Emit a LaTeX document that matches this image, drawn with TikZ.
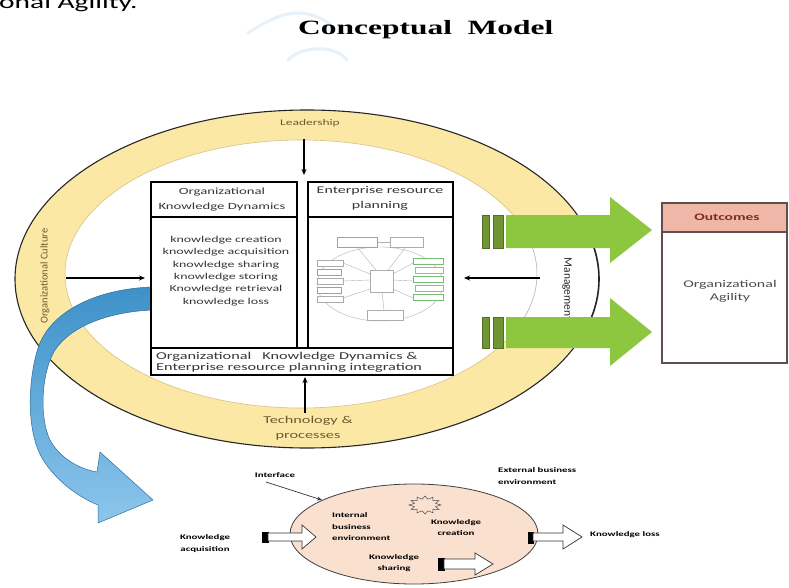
\documentclass[tikz,border=0pt]{standalone}
\usepackage{fontspec}
\setmainfont{Carlito}
\newfontfamily\wf{Carlito}[FakeStretch=1.55]
\newfontfamily\tf{Liberation Serif}[FakeStretch=1.55]
\usetikzlibrary{arrows.meta}
\definecolor{ringY}{RGB}{251,232,165}
\definecolor{ringE}{RGB}{215,195,140}
\definecolor{txtB}{RGB}{110,90,45}
\definecolor{grn}{RGB}{141,198,63}
\definecolor{grnD}{RGB}{112,150,52}
\definecolor{grnE}{RGB}{80,110,40}
\definecolor{bluD}{RGB}{62,145,200}
\definecolor{bluL}{RGB}{140,198,236}
\definecolor{bluE}{RGB}{45,110,160}
\definecolor{peach}{RGB}{250,224,207}
\definecolor{salmon}{RGB}{240,182,167}
\definecolor{outE}{RGB}{95,80,75}
\definecolor{outT}{RGB}{125,45,35}
\definecolor{wm}{RGB}{230,241,250}
\definecolor{txtG}{RGB}{55,55,55}
\begin{document}
\begin{tikzpicture}[x=1pt,y=-1pt,
  box/.style={draw=black, line width=1.3pt, fill=white},
  lbl/.style={inner sep=0pt, align=center, text=txtG},
  blbl/.style={inner sep=0pt, align=left, text=black, font=\wf\bfseries\fontsize{7}{11.5}\selectfont},
  arr/.style={black, line width=1.2pt, -{Stealth[length=6pt,width=5pt]}},
  erp/.style={draw=gray!65, line width=0.4pt, fill=white},
  erpg/.style={draw=green!35!gray!80, line width=0.5pt, fill=white},
  erpl/.style={draw=gray!60, line width=0.4pt},
  hollow/.style={draw=black!80, line width=0.7pt, fill=white},
  tailbox/.style={draw=black, fill=black, line width=0.5pt}]
\useasboundingbox (0,0) rectangle (789,588);
\fill[white] (0,0) rectangle (789,588);

% previous paragraph fragment and title
\node[anchor=base west, inner sep=0pt, font=\wf\fontsize{19}{22}\selectfont] (prev) at (-1,9) {onal Agility.};
\draw[wm, line width=3pt, line cap=round] (248,33) .. controls (268,20) and (285,12) .. (300,13) .. controls (312,14) and (322,18) .. (330,24);
\draw[wm, line width=3pt, line cap=round] (288,60) .. controls (300,46) and (335,44) .. (347,60);
\node[anchor=base west, inner sep=0pt, font=\tf\bfseries\fontsize{20.3}{23}\selectfont] (title) at (298,35) {Conceptual~~Model};

% yellow ring
\fill[ringY, even odd rule] (307,279) ellipse (292pt and 169pt) (301,274) ellipse (236pt and 134pt);
\draw[ringE, line width=0.6pt] (301,274) ellipse (236pt and 134pt);
\draw[black!85, line width=1.1pt] (307,279) ellipse (292pt and 169pt);
% management segment
\begin{scope}
  \clip (500,248) rectangle (640,317);
  \fill[white] (307,279) ellipse (293pt and 170pt);
  \draw[black!85, line width=1.6pt] (307,279) ellipse (292pt and 169pt);
  \draw[gray!70, line width=0.5pt] (301,274) ellipse (236pt and 134pt);
\end{scope}

% ring labels
\node[lbl, text=txtB, font=\wf\fontsize{8.7}{10}\selectfont] (lead) at (310,123) {Leadership};
\node[lbl, text=txtB, font=\wf\fontsize{10.5}{15}\selectfont] (tech) at (308,428.5) {Technology \&\\processes};
\node[lbl, text=txtB, rotate=90, font=\fontsize{10.5}{12}\selectfont] (cult) at (45,276) {Organizational Culture};
\node[lbl, text=black!85, rotate=-90, font=\fontsize{11.5}{12}\selectfont] (mgmt) at (567,289) {Management};

% blue curved arrow
\shadedraw[top color=bluD, bottom color=bluL, draw=bluE, line width=0.5pt]
  (152,287) .. controls (95,289) and (50,312) .. (38,348)
  .. controls (28,380) and (26,430) .. (42,458)
  .. controls (55,480) and (78,497) .. (98,505)
  -- (98,523) -- (153,500) -- (100,452) -- (97,472)
  .. controls (75,468) and (58,455) .. (50,440)
  .. controls (40,420) and (40,375) .. (55,350)
  .. controls (72,325) and (110,312) .. (152,310) -- cycle;

% central boxes
\draw[box] (151,182) rectangle (297,348);
\draw[black, line width=1.3pt] (151,217) -- (297,217);
\draw[box] (308,182) rectangle (453,348);
\draw[black, line width=1.3pt] (308,217) -- (453,217);
\draw[box] (151,348) rectangle (453,375);

\node[lbl, font=\wf\fontsize{9.5}{15}\selectfont] (okdh) at (222,199.5) {Organizational\\Knowledge Dynamics};
\node[lbl, font=\wf\fontsize{9}{12.4}\selectfont] (okdl) at (226,271) {knowledge creation\\knowledge acquisition\\knowledge sharing\\knowledge storing\\Knowledge retrieval\\knowledge loss};
\node[lbl, font=\wf\fontsize{10.3}{15}\selectfont] (erph) at (380,198.5) {Enterprise resource\\planning};
\node[lbl, anchor=west, align=left, font=\wf\fontsize{10.5}{11.5}\selectfont] (integ) at (156,362.5) {Organizational~~~Knowledge Dynamics \&\\Enterprise resource planning integration};

% mini ERP diagram
\draw[erpl] (380,284) ellipse (63pt and 37pt);
\draw[erpl] (377,242) -- (390,242);
\draw[erpl] (357,247) -- (376,270) (406,247) -- (388,270)
  (343,263) -- (370,274) (343,281) -- (370,280) (343,298) -- (370,289)
  (413,263) -- (393,274) (413,281) -- (393,280) (413,298) -- (393,289)
  (382,292) -- (384,310);
\draw[erpg] (337,237) rectangle (377,247);
\draw[erp] (390,237) rectangle (423,247);
\draw[erp] (317,260) rectangle (343,266);
\draw[erpg] (317,269) rectangle (341,275);
\draw[erp] (317,278) rectangle (343,284);
\draw[erpg] (317,287) rectangle (341,293);
\draw[erp] (317,296) rectangle (343,302);
\draw[erpg] (413,258) rectangle (443,264);
\draw[erp] (415,267) rectangle (443,273);
\draw[erpg] (413,276) rectangle (443,282);
\draw[erp] (415,285) rectangle (443,291);
\draw[erpg] (413,294) rectangle (443,300);
\draw[erp] (370,270) rectangle (393,292);
\draw[erp] (367,310) rectangle (403,320);

% connectors into the boxes
\coordinate (leadS) at (304,139);
\coordinate (leadE) at (304,175);
\coordinate (techS) at (305,413);
\coordinate (techE) at (305,377);
\coordinate (cultS) at (66,278);
\coordinate (cultE) at (145,278);
\coordinate (mgmtS) at (540,278);
\coordinate (mgmtE) at (464,278);
\draw[arr] (leadS) -- (leadE);
\draw[arr] (techS) -- (techE);
\draw[arr] (cultS) -- (cultE);
\draw[arr] (mgmtS) -- (mgmtE);

% green arrows
\foreach \yt/\yb/\ht/\hb in {215/248/197/263, 317/348/298/366}{
  \filldraw[fill=grnD, draw=grnE, line width=0.6pt] (482,\yt) rectangle (489,\yb);
  \filldraw[fill=grnD, draw=grnE, line width=0.6pt] (493,\yt) rectangle (503,\yb);
  \fill[grn] (506,\yt) -- (610,\yt) -- (610,\ht) -- (652,{(\ht+\hb)/2}) -- (610,\hb) -- (610,\yb) -- (506,\yb) -- cycle;
}

% outcomes
\draw[outE, line width=1.5pt, fill=white] (662,203) rectangle (787,363);
\filldraw[fill=salmon, draw=outE, line width=1.5pt] (662,203) rectangle (787,232);
\node[lbl, text=outT, font=\wf\bfseries\fontsize{10}{12}\selectfont] (outh) at (727,217) {Outcomes};
\node[lbl, text=black!70, font=\wf\fontsize{10.3}{13}\selectfont] (outb) at (730,291.5) {Organizational\\Agility};

% bottom interface diagram
\filldraw[fill=peach, draw=black!75, line width=0.8pt] (414,534) ellipse (124pt and 50pt);
\node[blbl] (iface) at (275,475) {Interface};
\coordinate (ifaceE) at (322,500);
\draw[black!80, line width=0.7pt, -{Stealth[length=5pt,width=4pt]}] (266,482) -- (ifaceE);
\node[blbl, anchor=west] (ext) at (498,476) {External business\\environment};
\node[blbl, align=center] (kacq) at (205,543.5) {Knowledge\\acquisition};
\node[blbl, anchor=west] (intb) at (332,527) {Internal\\business\\environment};
\node[blbl, align=center] (kcre) at (456,527.5) {Knowledge\\creation};
\node[blbl, align=center] (ksha) at (394,563) {Knowledge\\sharing};
\node[blbl, anchor=west] (kloss) at (590,535) {Knowledge loss};
% explosion shape
\draw[black!70, line width=0.5pt] (441,505)
  \foreach \a [evaluate=\a as \rx using {mod(\a,30)==0?16:11}, evaluate=\a as \ry using {mod(\a,30)==0?9:6}] in {15,30,...,360} { -- ({425+\rx*cos(\a)},{505+\ry*sin(\a)}) } -- cycle;
% hollow arrows
\draw[tailbox] (262,532) rectangle (268,542);
\draw[hollow] (268,533) -- (302,533) -- (302,525) -- (316,537) -- (302,549) -- (302,541) -- (268,541) -- cycle;
\draw[tailbox] (438,558) rectangle (444,570);
\draw[hollow] (444,559) -- (475,559) -- (475,553) -- (493,564) -- (475,575) -- (475,569) -- (444,569) -- cycle;
\draw[tailbox] (528,532) rectangle (533,543);
\draw[hollow] (533,533) -- (563,533) -- (563,525) -- (582,537) -- (563,549) -- (563,541) -- (533,541) -- cycle;
\end{tikzpicture}
\end{document}
